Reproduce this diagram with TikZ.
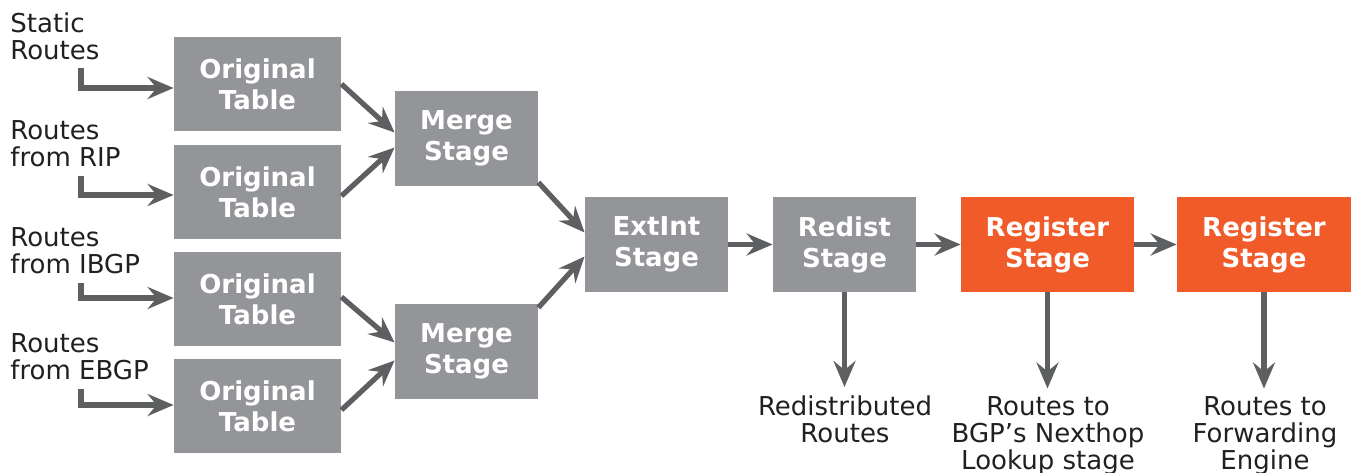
\documentclass[tikz,border=0pt]{standalone}
\usepackage{fontspec}
\setmainfont{DejaVu Sans}
\usetikzlibrary{arrows.meta,calc}
\definecolor{boxgray}{HTML}{939598}
\definecolor{boxorange}{HTML}{F15A29}
\definecolor{arrowgray}{HTML}{5E5F61}
\definecolor{textdark}{HTML}{231F20}
\tikzset{
  stagebox/.style={fill=boxgray,text=white,align=center,inner sep=0,
    font=\fontsize{13}{15.5}\selectfont\bfseries,
    minimum width=71.5pt,minimum height=47.5pt},
  tablebox/.style={stagebox,minimum width=83.5pt,minimum height=47pt},
  regbox/.style={stagebox,fill=boxorange,minimum width=86.5pt},
  routetext/.style={text=textdark,inner sep=0,
    font=\fontsize{13}{13.5}\selectfont},
  flow/.style={draw=arrowgray,line width=2.6pt,
    -{Stealth[length=13pt,width=11pt,inset=4.5pt]}}
}
\begin{document}
\begin{tikzpicture}[x=0.5pt,y=-0.5pt]
\useasboundingbox (0,0) rectangle (1351,472);
% sources
\node[routetext,anchor=north west,align=left] (src1) at (10,12.5) {Static\\Routes};
\node[routetext,anchor=north west,align=left] (src2) at (10,120.5) {Routes\\from RIP};
\node[routetext,anchor=north west,align=left] (src3) at (10,227.5) {Routes\\from IBGP};
\node[routetext,anchor=north west,align=left] (src4) at (10,333.5) {Routes\\from EBGP};
\coordinate (s1) at (81,68);
\coordinate (s2) at (81,176);
\coordinate (s3) at (81,283);
\coordinate (s4) at (81,389);

% tables and stages
\node[tablebox] (o1) at (257.5,84) {Original\\Table};
\node[tablebox] (o2) at (257.5,192) {Original\\Table};
\node[tablebox] (o3) at (257.5,299) {Original\\Table};
\node[tablebox] (o4) at (257.5,406) {Original\\Table};
\node[stagebox] (m1) at (466.5,138.5) {Merge\\Stage};
\node[stagebox] (m2) at (466.5,351.5) {Merge\\Stage};
\node[stagebox] (ext) at (656.5,244.5) {ExtInt\\Stage};
\node[stagebox] (red) at (844.5,244.5) {Redist\\Stage};
\node[regbox] (reg1) at (1047.5,244.5) {Register\\Stage};
\node[regbox,minimum width=87pt] (reg2) at (1264,244.5) {Register\\Stage};

% outputs
\node[routetext,anchor=north,align=center] (out1) at (845,395) {Redistributed\\Routes};
\node[routetext,anchor=north,align=center] (out2) at (1048,396.5) {Routes to\\BGP’s Nexthop\\Lookup stage};
\node[routetext,anchor=north,align=center] (out3) at (1265,396.5) {Routes to\\Forwarding\\Engine};

\draw[flow] (s1) |- ($(o1.west)+(0,4)$);
\draw[flow] (s2) |- ($(o2.west)+(0,3)$);
\draw[flow] (s3) |- ($(o3.west)+(0,-1)$);
\draw[flow] (s4) |- ($(o4.west)+(0,-1)$);

\draw[flow] (o1.east) -- ($(m1.west)+(0,-6)$);
\draw[flow] ($(o2.east)+(0,4)$) -- ($(m1.west)+(0,9)$);
\draw[flow] ($(o3.east)+(0,-2)$) -- ($(m2.west)+(0,-9)$);
\draw[flow] ($(o4.east)+(0,4)$) -- ($(m2.west)+(0,9)$);
\draw[flow] ($(m1.south east)+(0,-4)$) -- ($(ext.west)+(0,-12)$);
\draw[flow] ($(m2.north east)+(0,4)$) -- ($(ext.west)+(0,12)$);

\draw[flow] (ext) -- (red);
\draw[flow] (red) -- (reg1);
\draw[flow] (reg1) -- (reg2);

\draw[flow,shorten >=4pt] (red.south) -- (red.south |- out1.north);
\draw[flow,shorten >=4pt] (reg1.south) -- (reg1.south |- out2.north);
\draw[flow,shorten >=4pt] (reg2.south) -- (reg2.south |- out3.north);
\end{tikzpicture}
\end{document}
